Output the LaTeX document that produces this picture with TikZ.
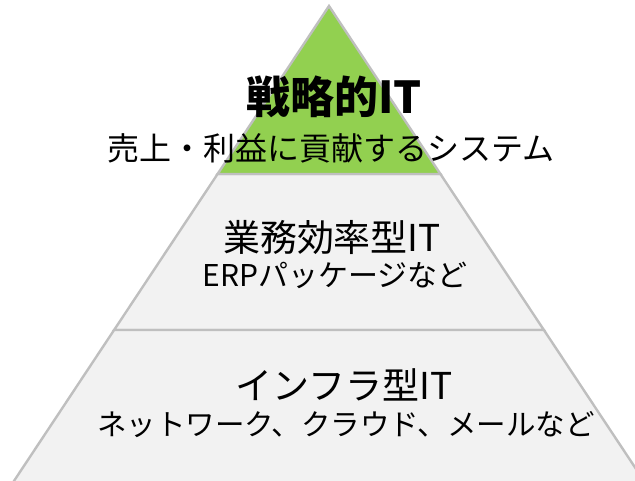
\documentclass[tikz,border=0pt]{standalone}
\usepackage{fontspec}
\setmainfont{Noto Sans CJK JP}
\definecolor{pgreen}{HTML}{92D050}
\definecolor{pfill}{HTML}{F2F2F2}
\definecolor{pline}{HTML}{BFBFBF}
\tikzset{
  tier/.style={draw=pline, line width=2.4pt, line join=miter},
  ttl/.style={anchor=center, inner sep=0pt, text=black},
}
\begin{document}
\begin{tikzpicture}[x=1pt,y=-1pt]
\useasboundingbox (0,0) rectangle (635,481);
\begin{scope}
\clip (0,0) rectangle (635,481);
\coordinate (apex) at (329,6);
\coordinate (l1) at (217.6,174);
\coordinate (r1) at (440.4,174);
\coordinate (l2) at (114.1,330);
\coordinate (r2) at (543.9,330);
\coordinate (l3) at (8,490);
\coordinate (r3) at (650,490);
\filldraw[tier, fill=pfill] (l1) -- (r1) -- (r2) -- (l2) -- cycle;
\filldraw[tier, fill=pfill] (l2) -- (r2) -- (r3) -- (l3) -- cycle;
\filldraw[tier, fill=pgreen] (apex) -- (r1) -- (l1) -- cycle;
\end{scope}
\node[ttl, font=\fontsize{44}{50}\selectfont\bfseries] (t1) at (334,97) {戦略的IT};
\node[ttl, font=\fontsize{32}{38}\selectfont] (s1) at (331,148) {売上・利益に貢献するシステム};
\node[ttl, font=\fontsize{37}{42}\selectfont] (t2) at (332,237) {業務効率型IT};
\node[ttl, font=\fontsize{30}{36}\selectfont] (s2) at (335,275) {ERPパッケージなど};
\node[ttl, font=\fontsize{37}{42}\selectfont] (t3) at (344,385) {インフラ型IT};
\node[ttl, font=\fontsize{29.5}{35}\selectfont] (s3) at (346,425) {ネットワーク、クラウド、メールなど};
\end{tikzpicture}
\end{document}
